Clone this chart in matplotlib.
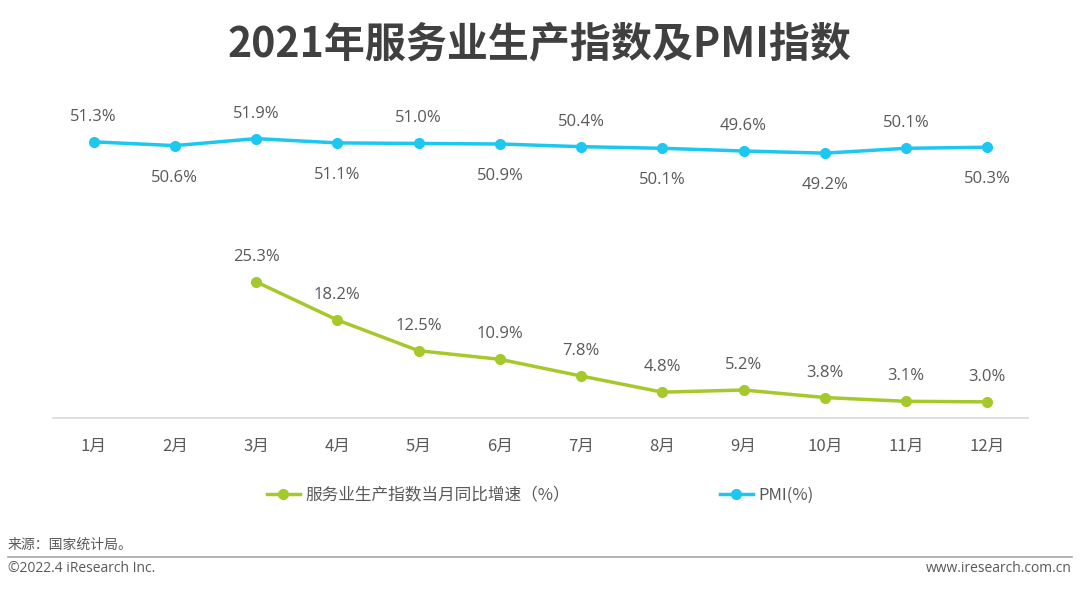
import matplotlib
matplotlib.use("Agg")
import matplotlib.pyplot as plt
from matplotlib.lines import Line2D

plt.rcParams['font.family'] = ['Noto Sans CJK SC', 'DejaVu Sans']

months = ['1月', '2月', '3月', '4月', '5月', '6月', '7月', '8月', '9月', '10月', '11月', '12月']
pmi = [51.3, 50.6, 51.9, 51.1, 51.0, 50.9, 50.4, 50.1, 49.6, 49.2, 50.1, 50.3]
service_months = months[2:]
service = [25.3, 18.2, 12.5, 10.9, 7.8, 4.8, 5.2, 3.8, 3.1, 3.0]

green = '#A5C92B'
cyan = '#1CC8F0'
txt = '#595959'
num_font = ['Open Sans', 'Noto Sans CJK SC']

fig = plt.figure(figsize=(10.8, 5.91), dpi=100)
ax = fig.add_axes([53/1080, 173/591, 975/1080, 323/591])

x_all = list(range(len(months)))
x_srv = [months.index(m) for m in service_months]

ax.plot(x_all, pmi, color=cyan, lw=2.5, marker='o', ms=7, zorder=3)
ax.plot(x_srv, service, color=green, lw=2.5, marker='o', ms=7, zorder=3)

for i, v in enumerate(pmi):
    if i % 2 == 0:
        ax.annotate(f'{v:.1f}%', (i, v), xytext=(0, 18), textcoords='offset points',
                    ha='center', va='center', fontsize=12, color=txt, family=num_font)
    else:
        ax.annotate(f'{v:.1f}%', (i, v), xytext=(0, -23), textcoords='offset points',
                    ha='center', va='center', fontsize=12, color=txt, family=num_font)
for xi, v in zip(x_srv, service):
    ax.annotate(f'{v:.1f}%', (xi, v), xytext=(0, 18), textcoords='offset points',
                ha='center', va='center', fontsize=12, color=txt, family=num_font)

ax.set_xlim(-0.5, 11.5)
ax.set_ylim(0, 60)
ax.set_xticks(x_all)
ax.set_xticklabels(months, fontsize=12, color=txt)
ax.tick_params(axis='x', length=0, pad=14)
ax.set_yticks([])
for s in ['top', 'right', 'left']:
    ax.spines[s].set_visible(False)
ax.spines['bottom'].set_color('#D9D9D9')
ax.spines['bottom'].set_linewidth(1.2)

handles = [Line2D([0], [0], color=green, lw=2.5, marker='o', ms=7),
           Line2D([0], [0], color=cyan, lw=2.5, marker='o', ms=7)]
fig.legend(handles, ['服务业生产指数当月同比增速（%）', 'PMI(%)'], loc='center',
           bbox_to_anchor=(540/1080, 1 - 495/591), ncol=2, frameon=False,
           fontsize=12, labelcolor=txt, columnspacing=9, handlelength=2.0,
           handletextpad=0.3)

fig.text(0.5, 1 - 44/591, '2021年服务业生产指数及PMI指数', ha='center', va='center',
         fontsize=29.5, fontweight='bold', color='#404040')

fig.text(8/1080, 1 - 545/591, '来源：国家统计局。', ha='left', va='center', fontsize=10, color=txt)
fig.add_artist(Line2D([8/1080, 1072/1080], [1 - 557/591, 1 - 557/591], color='#A6A6A6', lw=1.2))
fig.text(8/1080, 1 - 568/591, '©2022.4 iResearch Inc.', ha='left', va='center', fontsize=10, color=txt,
         family=num_font)
fig.text(1072/1080, 1 - 568/591, 'www.iresearch.com.cn', ha='right', va='center', fontsize=10, color=txt,
         family=num_font)

fig.savefig('out.png', dpi=100, facecolor='white')
